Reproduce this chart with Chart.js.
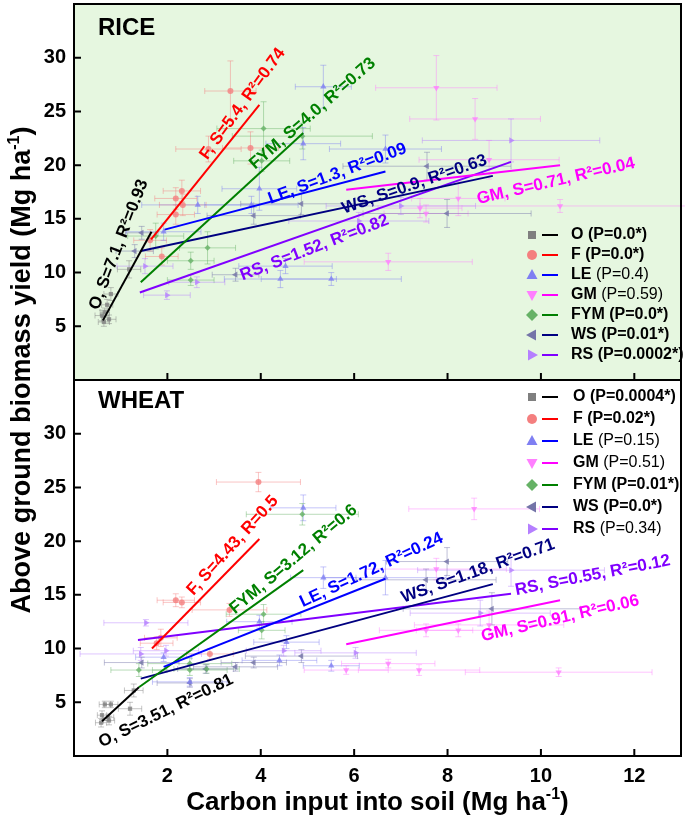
<!DOCTYPE html>
<html>
<head>
<meta charset="utf-8">
<script src="https://cdn.jsdelivr.net/npm/chart.js@4.4.1/dist/chart.umd.min.js"></script>
<style>
  body { margin: 0; background: #fff; }
  #wrap { width: 685px; height: 818px; }
</style>
</head>
<body>
<div id="wrap"><canvas id="myChart" width="685" height="818"></canvas></div>
<script>
const treatments = ["O", "F", "LE", "GM", "FYM", "WS", "RS"];
const xTicks = [2, 4, 6, 8, 10, 12];
const yTicks = [5, 10, 15, 20, 25, 30];

// each point: [carbon input, yield, x error, y error]
const riceO = [[0.60, 6.0, 0.15, 0.5], [0.75, 5.65, 0.15, 0.4], [0.79, 8.0, 0.15, 0.6], [0.71, 7.0, 0.12, 0.5],
  [0.64, 5.4, 0.12, 0.4], [1.18, 10.3, 0.25, 0.8], [0.66, 6.3, 0.1, 0.4]];
const riceF = [[3.35, 26.9, 0.55, 2.8], [3.78, 21.6, 0.6, 1.5], [2.88, 21.5, 0.7, 1.2], [2.31, 17.6, 0.4, 1.0],
  [2.18, 16.9, 0.45, 1.0], [2.33, 16.3, 0.5, 1.0], [2.18, 15.4, 0.4, 0.9], [1.88, 11.5, 0.35, 0.8], [1.63, 13.0, 0.35, 1.0]];
const riceLE = [[5.34, 27.3, 0.6, 2.0], [4.91, 22.0, 0.8, 1.5], [3.97, 17.8, 0.8, 2.0], [2.65, 16.3, 1.2, 0.8],
  [3.80, 16.3, 1.0, 0.8], [1.92, 13.8, 0.8, 0.8], [4.42, 9.4, 1.2, 0.8], [5.51, 9.4, 1.5, 0.6], [4.53, 10.6, 1.0, 0.7],
  [6.67, 21.5, 1.2, 1.3]];
const riceGM = [[7.76, 27.2, 1.3, 3.0], [8.59, 24.3, 1.4, 1.9], [8.23, 16.9, 1.0, 1.6], [7.41, 16.0, 0.9, 0.9],
  [7.54, 15.5, 0.9, 0.8], [6.73, 11.0, 1.8, 0.8], [10.41, 16.2, 3.0, 0.6], [8.89, 20.5, 1.5, 1.8]];
const riceFYM = [[4.06, 23.4, 1.0, 2.5], [4.02, 20.4, 0.6, 1.0], [4.89, 22.7, 1.5, 1.2], [2.86, 12.3, 0.6, 1.5],
  [2.50, 11.1, 0.5, 0.8], [2.50, 9.3, 0.5, 0.5], [1.75, 13.4, 0.6, 1.2]];
const riceWS = [[1.45, 13.7, 0.35, 0.6], [4.87, 16.4, 1.3, 1.0], [3.85, 15.3, 1.0, 0.8], [3.46, 9.8, 0.5, 0.6],
  [7.99, 15.5, 1.8, 1.3], [7.56, 19.9, 1.8, 1.3], [1.30, 12.0, 0.4, 0.6]];
const riceRS = [[1.99, 7.9, 0.5, 0.4], [2.63, 9.1, 0.6, 0.5], [1.52, 10.6, 0.6, 0.7], [9.36, 22.3, 1.9, 2.0],
  [6.10, 14.8, 1.5, 0.8], [7.00, 16.2, 1.6, 0.8]];

const wheatO = [[0.58, 3.1, 0.12, 0.4], [0.75, 3.3, 0.12, 0.4], [0.79, 4.8, 0.15, 0.3], [0.60, 3.8, 0.1, 0.4],
  [1.20, 4.4, 0.25, 0.6], [1.28, 6.1, 0.2, 0.6], [0.73, 3.6, 0.12, 0.3], [0.66, 4.8, 0.12, 0.3]];
const wheatF = [[3.95, 25.5, 0.9, 0.9], [2.18, 14.5, 0.4, 0.6], [2.31, 14.3, 0.4, 0.5], [3.33, 13.6, 0.8, 0.6],
  [2.91, 9.5, 0.5, 0.5], [1.86, 11.0, 0.35, 0.8], [1.77, 10.5, 0.35, 0.6]];
const wheatLE = [[4.91, 23.1, 0.7, 1.2], [5.34, 16.6, 0.7, 1.0], [3.97, 12.5, 0.7, 0.6], [1.92, 9.2, 0.6, 0.4],
  [4.40, 8.9, 0.8, 0.5], [5.51, 8.4, 0.6, 0.5], [4.55, 10.6, 0.7, 0.6], [6.67, 16.6, 1.3, 1.6], [2.48, 6.9, 0.8, 0.4]];
const wheatGM = [[8.57, 23.0, 1.4, 1.0], [7.76, 17.4, 1.5, 1.0], [7.54, 11.7, 1.0, 0.6], [8.23, 11.7, 0.9, 0.6],
  [6.73, 8.6, 1.0, 0.4], [7.39, 8.0, 1.3, 0.5], [5.83, 8.0, 0.9, 0.4], [10.38, 7.8, 2.0, 0.4], [8.89, 12.2, 1.6, 1.3]];
const wheatFYM = [[4.89, 22.5, 1.2, 1.0], [4.06, 13.2, 0.8, 0.9], [4.02, 11.7, 0.5, 0.8], [2.48, 8.6, 0.9, 0.5],
  [2.48, 8.0, 0.8, 0.5], [1.39, 8.0, 0.6, 0.6], [2.84, 8.1, 0.7, 0.4]];
const wheatWS = [[7.99, 18.1, 1.3, 1.3], [7.54, 16.4, 1.5, 1.0], [8.95, 13.7, 1.9, 1.5], [4.87, 9.3, 1.2, 0.6],
  [1.45, 8.7, 0.8, 0.5], [3.46, 8.3, 0.9, 0.4], [3.85, 8.7, 0.7, 0.5], [2.48, 6.8, 0.7, 0.4], [2.82, 8.1, 0.6, 0.4]];
const wheatRS = [[1.54, 12.4, 0.9, 0.3], [1.43, 9.5, 1.3, 0.6], [1.97, 9.8, 0.7, 0.5], [4.49, 9.8, 0.8, 0.5],
  [6.03, 9.6, 1.3, 0.5], [8.70, 13.3, 1.5, 1.2], [9.36, 17.3, 2.0, 1.5]];

// regression lines [x1, y1, x2, y2], order as treatments
const riceFits = [[0.62, 5.55, 1.66, 13.8], [1.65, 13.1, 3.97, 25.6], [1.94, 14.0, 6.67, 19.4], [5.83, 17.7, 10.41, 20.0],
  [1.43, 9.1, 4.91, 23.0], [1.43, 12.0, 8.97, 19.0], [1.41, 8.15, 9.36, 20.3]];
const wheatFits = [[0.60, 3.24, 1.39, 6.4], [1.67, 10.0, 3.97, 20.2], [1.92, 8.3, 6.67, 16.5], [5.83, 10.4, 10.41, 14.5],
  [1.39, 6.4, 4.91, 17.3], [1.43, 7.2, 8.97, 16.0], [1.37, 10.8, 9.36, 15.1]];

const riceLabels = ["O, S=7.1, R²=0.93", "F, S=5.4, R²=0.74", "LE, S=1.3, R²=0.09", "GM, S=0.71, R²=0.04",
  "FYM, S=4.0, R²=0.73", "WS, S=0.9, R²=0.63", "RS, S=1.52, R²=0.82"];
const wheatLabels = ["O, S=3.51, R²=0.81", "F, S=4.43, R=0.5", "LE, S=1.72, R²=0.24", "GM, S=0.91, R²=0.06",
  "FYM, S=3.12, R²=0.6", "WS, S=1.18, R²=0.71", "RS, S=0.55, R²=0.12"];
// label centre [x, y] and angle in degrees
const riceLabelPos = [[0.96, 12.6, -69], [3.61, 25.7, -54], [5.64, 19.2, -20.6], [10.32, 18.5, -13],
  [5.11, 24.8, -41], [7.29, 18.2, -19], [5.15, 12.3, -21]];
const wheatLabelPos = [[1.97, 4.2, -26], [3.40, 19.6, -48], [6.37, 17.3, -25], [10.41, 12.8, -13],
  [4.70, 18.3, -40], [8.65, 17.2, -19.7], [11.11, 16.8, -11]];

const riceP = ["(P=0.0*)", "(P=0.0*)", "(P=0.4)", "(P=0.59)", "(P=0.0*)", "(P=0.01*)", "(P=0.0002*)"];
const wheatP = ["(P=0.0004*)", "(P=0.02*)", "(P=0.15)", "(P=0.51)", "(P=0.01*)", "(P=0.0*)", "(P=0.34)"];

const pointColors = ["#7f7f7f", "#f47f7f", "#7f7ff2", "#ff7fff", "#66b266", "#7474a8", "#b57fff"];
const lineColors = ["#000000", "#ff0000", "#0000ff", "#ff00ff", "#008000", "#000080", "#8000ff"];
const markerStyles = ["rect", "circle", "triangle", "triangle", "rectRot", "triangle", "triangle"];
const markerRotation = [0, 0, 0, 180, 0, 270, 90];

const FONT = '"Liberation Sans", Arial, sans-serif';

function alpha(hex, a) {
  const n = parseInt(hex.slice(1), 16);
  return `rgba(${n >> 16},${(n >> 8) & 255},${n & 255},${a})`;
}

const datasets = [];
function addCrop(pointSets, fits, axis) {
  treatments.forEach((t, i) => {
    datasets.push({
      type: "scatter", yAxisID: axis, order: 1,
      data: pointSets[i].map(p => ({x: p[0], y: p[1]})),
      errs: pointSets[i].map(p => [p[2], p[3]]),
      errColor: alpha(pointColors[i], 0.45),
      pointStyle: markerStyles[i], rotation: markerRotation[i],
      pointRadius: markerStyles[i] === "triangle" ? 3.6 : 3,
      backgroundColor: alpha(pointColors[i], 0.8), borderWidth: 0
    });
    datasets.push({
      type: "line", yAxisID: axis, order: 0,
      data: [{x: fits[i][0], y: fits[i][1]}, {x: fits[i][2], y: fits[i][3]}],
      borderColor: lineColors[i], borderWidth: 2, pointRadius: 0, fill: false
    });
  });
}
addCrop([riceO, riceF, riceLE, riceGM, riceFYM, riceWS, riceRS], riceFits, "yR");
addCrop([wheatO, wheatF, wheatLE, wheatGM, wheatFYM, wheatWS, wheatRS], wheatFits, "yW");

function drawRich(ctx, parts, size, x, y) {
  let total = 0;
  const widths = parts.map(([t, sup]) => {
    ctx.font = `bold ${sup ? Math.round(size * 0.6) : size}px ${FONT}`;
    const w = ctx.measureText(t).width;
    total += w;
    return w;
  });
  let cx = x - total / 2;
  parts.forEach(([t, sup], k) => {
    ctx.font = `bold ${sup ? Math.round(size * 0.6) : size}px ${FONT}`;
    ctx.fillText(t, cx, sup ? y - size * 0.42 : y);
    cx += widths[k];
  });
}

const panelPlugin = {
  id: "panels",
  beforeDatasetsDraw(chart) {
    const ctx = chart.ctx;
    const {left, right} = chart.chartArea;
    const yR = chart.scales.yR, xS = chart.scales.x;
    ctx.save();
    ctx.fillStyle = "#e6f7e0";
    ctx.fillRect(left, yR.top, right - left, yR.bottom - yR.top);
    // error bars
    ctx.lineWidth = 1;
    chart.data.datasets.forEach(ds => {
      if (!ds.errs) return;
      const yS = chart.scales[ds.yAxisID];
      ctx.strokeStyle = ds.errColor;
      ds.data.forEach((p, k) => {
        const [ex, ey] = ds.errs[k];
        const px = xS.getPixelForValue(p.x), py = yS.getPixelForValue(p.y);
        const x1 = xS.getPixelForValue(p.x - ex), x2 = xS.getPixelForValue(p.x + ex);
        const y1 = yS.getPixelForValue(p.y - ey), y2 = yS.getPixelForValue(p.y + ey);
        ctx.beginPath();
        ctx.moveTo(x1, py); ctx.lineTo(x2, py);
        ctx.moveTo(px, y1); ctx.lineTo(px, y2);
        ctx.moveTo(x1, py - 3); ctx.lineTo(x1, py + 3);
        ctx.moveTo(x2, py - 3); ctx.lineTo(x2, py + 3);
        ctx.moveTo(px - 3, y1); ctx.lineTo(px + 3, y1);
        ctx.moveTo(px - 3, y2); ctx.lineTo(px + 3, y2);
        ctx.stroke();
      });
    });
    ctx.restore();
  },
  afterDatasetsDraw(chart) {
    const ctx = chart.ctx;
    const {left, right, top, bottom} = chart.chartArea;
    const xS = chart.scales.x, yR = chart.scales.yR, yW = chart.scales.yW;
    ctx.save();

    // regression labels
    ctx.textAlign = "center";
    ctx.textBaseline = "middle";
    ctx.font = `bold 17px ${FONT}`;
    [[riceLabels, riceLabelPos, yR], [wheatLabels, wheatLabelPos, yW]].forEach(([labels, pos, yS]) => {
      labels.forEach((txt, i) => {
        ctx.save();
        ctx.translate(xS.getPixelForValue(pos[i][0]), yS.getPixelForValue(pos[i][1]));
        ctx.rotate(pos[i][2] * Math.PI / 180);
        ctx.fillStyle = lineColors[i];
        ctx.fillText(txt, 0, 0);
        ctx.restore();
      });
    });

    // frame, divider and ticks
    ctx.strokeStyle = "#000";
    ctx.lineWidth = 2;
    ctx.strokeRect(left, top, right - left, bottom - top);
    ctx.beginPath();
    ctx.moveTo(left, yR.bottom); ctx.lineTo(right, yR.bottom);
    xTicks.forEach(v => {
      const px = xS.getPixelForValue(v);
      ctx.moveTo(px, yR.bottom); ctx.lineTo(px, yR.bottom - 7);
      ctx.moveTo(px, bottom); ctx.lineTo(px, bottom - 7);
    });
    [yR, yW].forEach(s => {
      yTicks.forEach(v => {
        const py = s.getPixelForValue(v);
        ctx.moveTo(left, py); ctx.lineTo(left + 7, py);
      });
    });
    ctx.stroke();

    // panel titles
    ctx.fillStyle = "#000";
    ctx.textAlign = "left";
    ctx.textBaseline = "alphabetic";
    ctx.font = `bold 24px ${FONT}`;
    ctx.fillText("RICE", left + 24, yR.top + 31);
    ctx.fillText("WHEAT", left + 24, yW.top + 28);

    // legends
    [[riceP, yR.top + 231, 20, 571], [wheatP, yW.top + 17, 22, 573]].forEach(([pv, y0, step, tx]) => {
      treatments.forEach((t, i) => {
        const y = y0 + i * step;
        const mx = 532;
        ctx.save();
        ctx.fillStyle = pointColors[i];
        ctx.translate(mx, y);
        ctx.rotate(markerRotation[i] * Math.PI / 180);
        ctx.beginPath();
        if (markerStyles[i] === "rect") ctx.rect(-4, -4, 8, 8);
        else if (markerStyles[i] === "circle") ctx.arc(0, 0, 5, 0, Math.PI * 2);
        else if (markerStyles[i] === "rectRot") { ctx.moveTo(0, -6); ctx.lineTo(6, 0); ctx.lineTo(0, 6); ctx.lineTo(-6, 0); }
        else { ctx.moveTo(0, -6); ctx.lineTo(5.5, 4); ctx.lineTo(-5.5, 4); }
        ctx.closePath();
        ctx.fill();
        ctx.restore();
        ctx.strokeStyle = lineColors[i];
        ctx.lineWidth = 2;
        ctx.beginPath();
        ctx.moveTo(542, y); ctx.lineTo(558, y);
        ctx.stroke();
        ctx.fillStyle = "#000";
        ctx.textBaseline = "middle";
        ctx.font = `bold 16px ${FONT}`;
        ctx.fillText(t + " ", tx, y);
        const w = ctx.measureText(t + " ").width;
        ctx.font = `${pv[i].includes("*") ? "bold " : ""}16px ${FONT}`;
        ctx.fillText(pv[i], tx + w, y);
      });
    });

    // axis titles
    ctx.fillStyle = "#000";
    ctx.textAlign = "left";
    ctx.textBaseline = "alphabetic";
    drawRich(ctx, [["Carbon input into soil (Mg ha", false], ["-1", true], [")", false]], 26, (left + right) / 2, 810);
    ctx.save();
    ctx.translate(30, 370);
    ctx.rotate(-Math.PI / 2);
    drawRich(ctx, [["Above ground biomass yield (Mg ha", false], ["-1", true], [")", false]], 27, 0, 0);
    ctx.restore();

    ctx.restore();
  }
};

const yScale = {
  type: "linear", min: 0, max: 35, position: "left", stack: "panels", stackWeight: 1,
  grid: {display: false, drawTicks: false}, border: {display: false},
  ticks: {color: "#000", font: {family: FONT, size: 20, weight: "bold"}, padding: 8},
  afterBuildTicks: s => { s.ticks = yTicks.map(v => ({value: v})); },
  afterFit: s => { s.width = 74; s.paddingTop = 0; s.paddingBottom = 0; }
};

new Chart(document.getElementById("myChart"), {
  type: "scatter",
  data: {datasets: datasets},
  options: {
    responsive: false,
    animation: false,
    layout: {padding: {left: 0, right: 2, top: 1, bottom: 0}},
    plugins: {legend: {display: false}, tooltip: {enabled: false}},
    scales: {
      x: {
        type: "linear", min: 0, max: 13, position: "bottom",
        grid: {display: false, drawTicks: false}, border: {display: false},
        ticks: {color: "#000", font: {family: FONT, size: 20, weight: "bold"}, padding: 8},
        afterBuildTicks: s => { s.ticks = xTicks.map(v => ({value: v})); },
        afterFit: s => { s.height = 62; s.paddingLeft = 0; s.paddingRight = 0; }
      },
      yW: Object.assign({}, yScale),
      yR: Object.assign({}, yScale)
    }
  },
  plugins: [panelPlugin]
});
</script>
</body>
</html>
